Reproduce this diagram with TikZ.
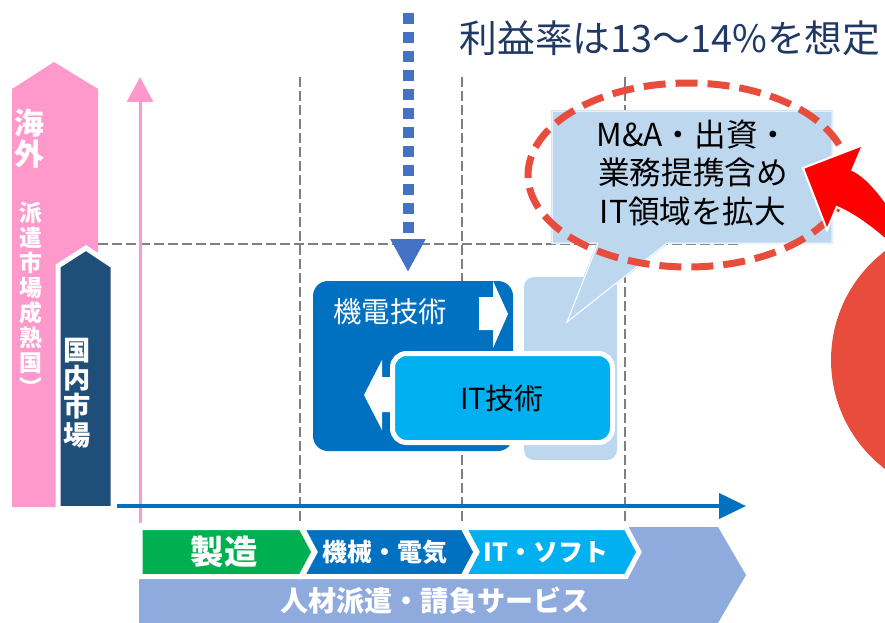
\documentclass[tikz,border=0pt]{standalone}
\usepackage{fontspec}
\setmainfont{Noto Sans CJK JP}
\usepackage{xcolor}
\usepackage{tikz}
\usetikzlibrary{arrows.meta}

\definecolor{kaigaipink}{HTML}{FF99CC}
\definecolor{kokunainavy}{HTML}{1F4E79}
\definecolor{kidenblue}{HTML}{0070C0}
\definecolor{itcyan}{HTML}{00B0F0}
\definecolor{seizogreen}{HTML}{00B050}
\definecolor{hakenlav}{HTML}{8FAADC}
\definecolor{paleblue}{HTML}{BDD7EE}
\definecolor{dotblue}{HTML}{4472C4}
\definecolor{titlenavy}{HTML}{1F3864}
\definecolor{ringred}{HTML}{E84C3D}
\definecolor{gridgray}{HTML}{7F7F7F}

\begin{document}
\begin{tikzpicture}[x=0.02cm,y=-0.02cm]
      \tikzset{gridline/.style={draw=gridgray,line width=0.05cm,dash pattern=on 0.2cm off 0.08cm}}
      \tikzset{chev/.style={draw=white,line width=0.1cm}}
      \tikzset{bandtext/.style={text=white,inner sep=0pt}}
      \tikzset{vtext/.style={text=white,align=center,inner sep=0pt}}
      \tikzset{dotarrow/.style={draw=dotblue,line width=0.22cm,dash pattern=on 0.22cm off 0.16cm,-{Triangle[width=0.66cm,length=0.66cm]}}}
      \tikzset{pinkaxis/.style={draw=kaigaipink,line width=0.06cm,-{Triangle[width=0.52cm,length=0.5cm]}}}
      \tikzset{timeaxis/.style={draw=kidenblue,line width=0.08cm,-{Triangle[width=0.5cm,length=0.54cm]}}}
      \tikzset{ring/.style={draw=ringred,line width=0.14cm,dash pattern=on 0.44cm off 0.2cm}}
      \tikzset{callout/.style={fill=paleblue,draw=paleblue,double=white,double distance=0.02cm,line width=0.01cm}}
      \tikzset{bigarrow/.style={fill=red,draw=white,line width=0.04cm,line join=miter}}
      \def\bandfont{\bfseries\fontsize{14.2}{16}\selectfont}

      \clip (0,0) rectangle (885,622);

      \foreach \gx in {300,462,625}
        \draw[gridline] (\gx,77) -- (\gx,523);
      \draw[gridline] (98,244) -- (740,244);

      \fill[hakenlav] (139,527) -- (718,527) -- (746,575) -- (718,623) -- (139,623) -- cycle;
      \filldraw[chev,fill=seizogreen] (140,527.5) -- (301,527.5) -- (314,552) -- (301,576.5) -- (140,576.5) -- cycle;
      \filldraw[chev,fill=kidenblue] (302,527.5) -- (463,527.5) -- (476,552) -- (463,576.5) -- (302,576.5) -- (315,552) -- cycle;
      \filldraw[chev,fill=itcyan] (464,527.5) -- (626,527.5) -- (639,552) -- (626,576.5) -- (464,576.5) -- (477,552) -- cycle;
      \node[bandtext,font=\bfseries\fontsize{19}{21}\selectfont] (seizo) at (224,552) {製造};
      \node[bandtext,font=\bandfont] (kikai) at (385,552) {機械・電気};
      \node[bandtext,font=\bandfont] (itsoft) at (546,552) {IT・ソフト};
      \node[bandtext,font=\bfseries\fontsize{16}{18}\selectfont] (jinzai) at (435,601) {人材派遣・請負サービス};

      \fill[kaigaipink] (12,507) -- (12,89) -- (54,62) -- (98,89) -- (98,507) -- cycle;
      \filldraw[fill=kokunainavy,draw=white,line width=0.1cm] (58,508.5) -- (58,266) -- (86,248) -- (113,266) -- (113,508.5) -- cycle;
      \node[vtext,font=\bfseries\fontsize{17}{17.6}\selectfont] (kaigai) at (29,139) {海\\外};
      \node[vtext,font=\bfseries\fontsize{13}{14.2}\selectfont] (haken) at (31,299) {派\\遣\\市\\場\\成\\熟\\国\\︶};
      \node[vtext,font=\bfseries\fontsize{15.5}{16.1}\selectfont] (kokunai) at (77,393) {国\\内\\市\\場};

      \coordinate (pinkfoot) at (140,523);
      \coordinate (pinktop) at (140,77);
      \coordinate (axisstart) at (117,506);
      \coordinate (axisend) at (746,506);
      \draw[pinkaxis] (pinkfoot) -- (pinktop);
      \draw[timeaxis] (axisstart) -- (axisend);

      \fill[paleblue,rounded corners=0.2cm] (524,277) rectangle (617,460);
      \fill[kidenblue,rounded corners=0.3cm] (313,281) rectangle (513,451);
      \fill[white] (479,297) -- (493,297) -- (493,281) -- (508,314) -- (493,348) -- (493,330) -- (479,330) -- cycle;
      \fill[white] (364,395) -- (382,360) -- (382,377) -- (400,377) -- (400,412) -- (382,412) -- (382,430) -- cycle;
      \filldraw[fill=itcyan,draw=white,line width=0.1cm,rounded corners=0.28cm] (392.5,353.5) rectangle (612.5,442.5);
      \node[text=white,font=\fontsize{16.2}{18}\selectfont] (kidentech) at (390,312) {機電技術};
      \node[font=\fontsize{16.5}{18}\selectfont] (ittech) at (502,398) {IT技術};

      \filldraw[callout] (552,111) -- (832,111) -- (832,243) -- (667,243) -- (567,322) -- (598,243) -- (552,243) -- cycle;
      \node[align=center,font=\fontsize{18}{22}\selectfont] (expand) at (693,173) {M\&A・出資・\\業務提携含め\\IT領域を拡大};
      \draw[ring] (688,175) ellipse [x radius=3.2cm,y radius=1.84cm];

      \node[circle,fill=ringred,minimum size=5.48cm,inner sep=0pt] (market) at (968,360) {};
      \coordinate (innerfoot) at (895,248);
      \coordinate (innerneck) at (836.7,207);
      \coordinate (headR) at (827,230);
      \coordinate (redtip) at (803,168);
      \coordinate (headL) at (863,145);
      \coordinate (outerneck) at (852.4,170);
      \coordinate (outerfoot) at (895,216);
      \filldraw[bigarrow] (innerfoot) .. controls (876,231) and (856,215) .. (innerneck)
        -- (headR) -- (redtip) -- (headL) -- (outerneck)
        .. controls (866,176) and (881,194) .. (outerfoot);

      \coordinate (dottop) at (408,13);
      \coordinate (dottip) at (408,272);
      \draw[dotarrow] (dottop) -- (dottip);
      \node[text=titlenavy,font=\fontsize{21.5}{24}\selectfont] (profit) at (670,38) {利益率は13～14\%を想定};
\end{tikzpicture}
\end{document}
